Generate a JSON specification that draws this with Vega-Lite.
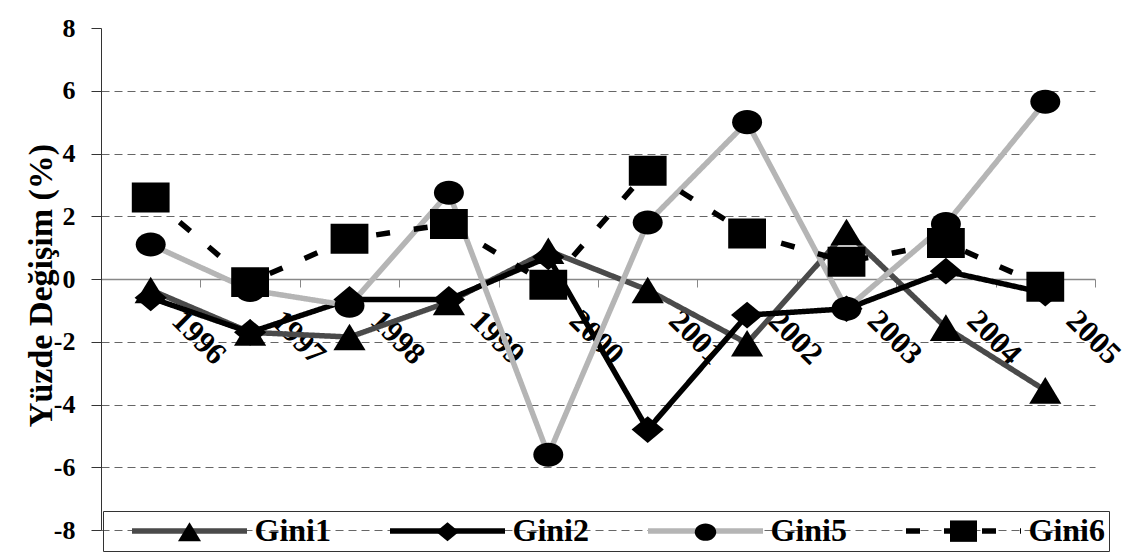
{
  "$schema": "https://vega.github.io/schema/vega-lite/v6.json",
  "width": 994,
  "height": 502,
  "autosize": {"type": "none"},
  "padding": {"left": 101, "top": 28, "right": 34, "bottom": 27},
  "background": "white",
  "config": {"view": {"stroke": null}, "font": "Liberation Serif, serif"},
  "data": {
    "values": [
      {"year": 1996, "series": "Gini1", "value": -0.35},
      {"year": 1997, "series": "Gini1", "value": -1.7},
      {"year": 1998, "series": "Gini1", "value": -1.85},
      {"year": 1999, "series": "Gini1", "value": -0.73},
      {"year": 2000, "series": "Gini1", "value": 0.9},
      {"year": 2001, "series": "Gini1", "value": -0.35},
      {"year": 2002, "series": "Gini1", "value": -2.05},
      {"year": 2003, "series": "Gini1", "value": 1.5},
      {"year": 2004, "series": "Gini1", "value": -1.55},
      {"year": 2005, "series": "Gini1", "value": -3.55},
      {"year": 1996, "series": "Gini2", "value": -0.6},
      {"year": 1997, "series": "Gini2", "value": -1.7},
      {"year": 1998, "series": "Gini2", "value": -0.65},
      {"year": 1999, "series": "Gini2", "value": -0.65},
      {"year": 2000, "series": "Gini2", "value": 0.7},
      {"year": 2001, "series": "Gini2", "value": -4.8},
      {"year": 2002, "series": "Gini2", "value": -1.15},
      {"year": 2003, "series": "Gini2", "value": -0.95},
      {"year": 2004, "series": "Gini2", "value": 0.25},
      {"year": 2005, "series": "Gini2", "value": -0.45},
      {"year": 1996, "series": "Gini5", "value": 1.1},
      {"year": 1997, "series": "Gini5", "value": -0.35},
      {"year": 1998, "series": "Gini5", "value": -0.85},
      {"year": 1999, "series": "Gini5", "value": 2.75},
      {"year": 2000, "series": "Gini5", "value": -5.6},
      {"year": 2001, "series": "Gini5", "value": 1.8},
      {"year": 2002, "series": "Gini5", "value": 5.0},
      {"year": 2003, "series": "Gini5", "value": -0.95},
      {"year": 2004, "series": "Gini5", "value": 1.75},
      {"year": 2005, "series": "Gini5", "value": 5.65},
      {"year": 1996, "series": "Gini6", "value": 2.6},
      {"year": 1997, "series": "Gini6", "value": -0.1},
      {"year": 1998, "series": "Gini6", "value": 1.28},
      {"year": 1999, "series": "Gini6", "value": 1.75},
      {"year": 2000, "series": "Gini6", "value": -0.18},
      {"year": 2001, "series": "Gini6", "value": 3.45},
      {"year": 2002, "series": "Gini6", "value": 1.45},
      {"year": 2003, "series": "Gini6", "value": 0.55},
      {"year": 2004, "series": "Gini6", "value": 1.15},
      {"year": 2005, "series": "Gini6", "value": -0.25}
    ]
  },
  "encoding": {
    "x": {
      "field": "year",
      "type": "ordinal",
      "scale": {"type": "band", "paddingInner": 0, "paddingOuter": 0},
      "axis": {
        "title": null,
        "offset": -251,
        "domainColor": "#888888",
        "domainWidth": 1.5,
        "tickColor": "#888888",
        "tickSize": 8,
        "tickBand": "extent",
        "labelAngle": 45,
        "labelAlign": "left",
        "labelBaseline": "top",
        "labelOffset": 36,
        "labelPadding": 18,
        "labelFont": "Liberation Serif",
        "labelFontSize": 31,
        "labelFontWeight": "bold",
        "labelColor": "black",
        "grid": false
      }
    },
    "y": {
      "field": "value",
      "type": "quantitative",
      "scale": {"domain": [-8, 8], "nice": false, "zero": false},
      "axis": {
        "values": [-8, -6, -4, -2, 0, 2, 4, 6, 8],
        "labelExpr": "'' + datum.value",
        "title": "Yüzde Değişim (%)",
        "titleFont": "Liberation Serif",
        "titleFontSize": 34,
        "titleFontWeight": "bold",
        "titleColor": "black",
        "titleAngle": -90,
        "titleAlign": "center",
        "titleBaseline": "middle",
        "titleX": -60,
        "titleY": 257,
        "labelFont": "Liberation Serif",
        "labelFontSize": 26,
        "labelFontWeight": "bold",
        "labelColor": "black",
        "labelPadding": 16,
        "tickSize": 10,
        "tickColor": "#333333",
        "domainColor": "#333333",
        "grid": true,
        "gridDash": [8, 5],
        "gridColor": "#666666",
        "gridOpacity": {"condition": {"test": "datum.value === 8 || datum.value === 0", "value": 0}, "value": 1}
      }
    }
  },
  "layer": [
    {
      "mark": {"type": "line", "strokeWidth": 5.5, "strokeJoin": "round"},
      "encoding": {
        "color": {
          "field": "series",
          "type": "nominal",
          "scale": {"range": ["#4a4a4a", "#000000", "#b5b5b5", "#000000"]},
          "legend": {
            "title": null, "orient": "none", "legendX": 2, "legendY": 483, "direction": "horizontal",
            "symbolType": "M-57.5,0H57.5", "symbolSize": 4, "symbolStrokeWidth": 5.5, "symbolOffset": 66.5,
            "labelOffset": 49, "labelFont": "Liberation Serif", "labelFontSize": 32, "labelFontWeight": "bold",
            "labelColor": "black", "labelLimit": 0, "columnPadding": 34, "padding": 4, "strokeColor": "#333333", "zindex": 1
          }
        },
        "strokeDash": {
          "field": "series",
          "type": "nominal",
          "scale": {"range": [[1, 0], [1, 0], [1, 0], [14, 24]]},
          "legend": {
            "title": null, "orient": "none", "legendX": 2, "legendY": 483, "direction": "horizontal",
            "symbolType": "M-57.5,0H57.5", "symbolSize": 4, "symbolStrokeWidth": 5.5, "symbolOffset": 66.5,
            "labelOffset": 49, "labelFont": "Liberation Serif", "labelFontSize": 32, "labelFontWeight": "bold",
            "labelColor": "black", "labelLimit": 0, "columnPadding": 34, "padding": 4, "strokeColor": "#333333", "zindex": 1
          }
        }
      }
    },
    {
      "mark": {"type": "point", "filled": true, "color": "black", "opacity": 1, "size": 7.84, "strokeWidth": 0},
      "encoding": {
        "shape": {
          "field": "series",
          "type": "nominal",
          "scale": {
            "domain": ["Gini1", "Gini2", "Gini5", "Gini6"],
            "range": [
              "M0,-9.5L11.5,9.5L-11.5,9.5Z",
              "M0,-9.5L11.5,0L0,9.5L-11.5,0Z",
              "M-10.7,0A10.7,8.6,0,1,0,10.7,0A10.7,8.6,0,1,0,-10.7,0Z",
              "M-13.5,-10.7H13.5V10.7H-13.5Z"
            ]
          },
          "legend": {
            "title": null, "orient": "none", "legendX": 2, "legendY": 483, "direction": "horizontal",
            "symbolSize": 4, "symbolStrokeWidth": 5.5, "symbolStrokeColor": "transparent", "symbolFillColor": "black",
            "symbolOffset": 66.5, "labelOffset": 49, "labelFont": "Liberation Serif", "labelFontSize": 32,
            "labelFontWeight": "bold", "labelOpacity": 0, "labelLimit": 0, "columnPadding": 34, "padding": 4, "zindex": 2
          }
        }
      }
    }
  ]
}
